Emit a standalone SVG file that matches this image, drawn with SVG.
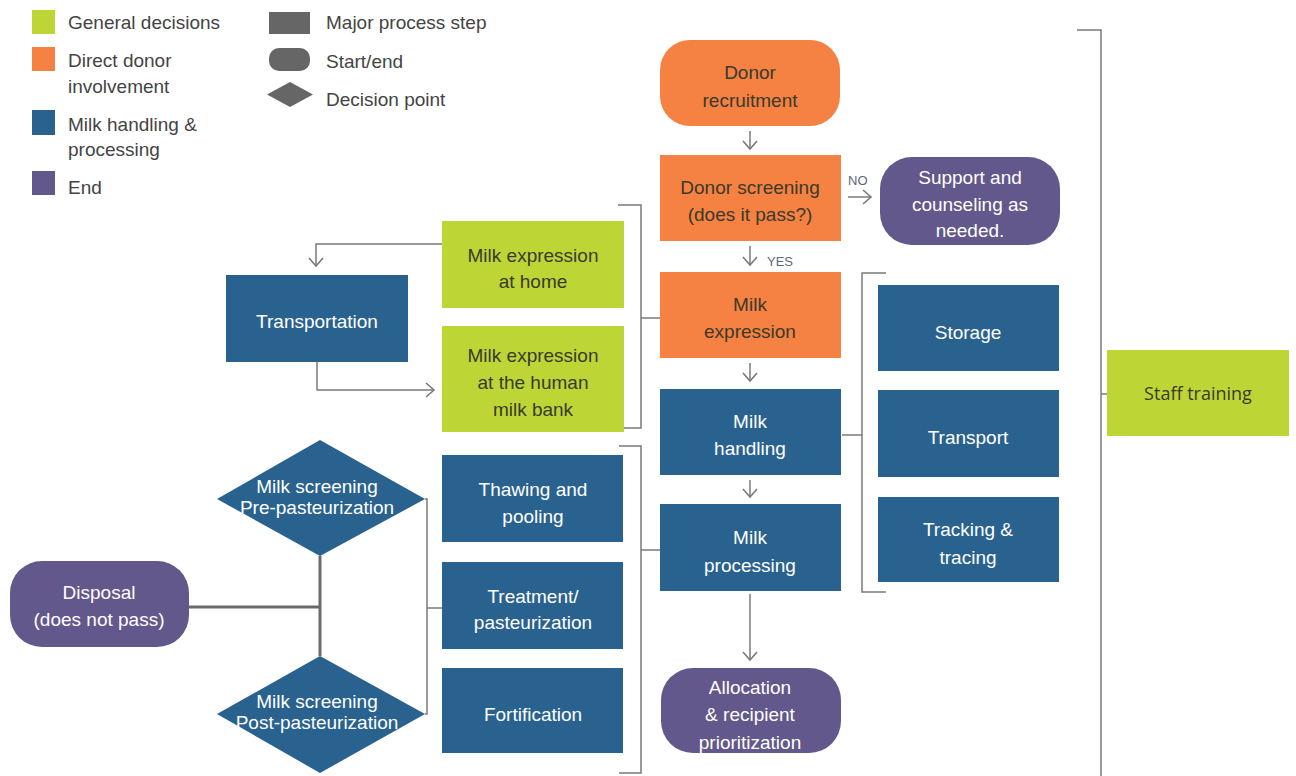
<svg xmlns="http://www.w3.org/2000/svg" width="1296" height="776" viewBox="0 0 1296 776">
<style>
text{font-family:"Liberation Sans",Arial,sans-serif;font-size:19px;text-anchor:middle}
.lg{text-anchor:start;fill:#444}
.w{fill:#fff}
.d{fill:#3a3a2a}
.green{fill:#BDD636}
.orange{fill:#F58142}
.blue{fill:#2A628F}
.purple{fill:#62588B}
.grey{fill:#666}
.ln{fill:none;stroke:#7a7a7a;stroke-width:1.5}
.thick{fill:none;stroke:#6a6a6a;stroke-width:3}
.lbl{font-size:13px;fill:#5a6a7a;text-anchor:start}
</style>
<defs>
<marker id="ah" markerUnits="userSpaceOnUse" markerWidth="20" markerHeight="20" viewBox="-10 -10 20 20" refX="0" refY="0" orient="auto">
<path d="M-8,-7 L0,0 L-8,7" fill="none" stroke="#7a7a7a" stroke-width="1.6"/>
</marker>
</defs>

<g id="legend">
<rect class="green" x="32" y="10" width="23" height="24"/>
<text class="lg" x="68" y="29">General decisions</text>
<rect class="orange" x="32" y="47" width="23" height="24"/>
<text class="lg" x="68" y="67">Direct donor</text>
<text class="lg" x="68" y="93">involvement</text>
<rect class="blue" x="32" y="110" width="23" height="25"/>
<text class="lg" x="68" y="131">Milk handling &amp;</text>
<text class="lg" x="68" y="156">processing</text>
<rect class="purple" x="32" y="171" width="23" height="24"/>
<text class="lg" x="68" y="194">End</text>
<rect class="grey" x="269" y="12" width="41" height="22"/>
<text class="lg" x="326" y="29">Major process step</text>
<rect class="grey" x="269" y="48" width="41" height="23" rx="10"/>
<text class="lg" x="326" y="68">Start/end</text>
<polygon class="grey" points="290,82 313,94.5 290,107 267,94.5"/>
<text class="lg" x="326" y="106">Decision point</text>
</g>

<g id="connectors">
<line class="ln" x1="750" y1="131" x2="750" y2="149" marker-end="url(#ah)"/>
<line class="ln" x1="848" y1="197" x2="871" y2="197" marker-end="url(#ah)"/>
<text class="lbl" x="848" y="185">NO</text>
<line class="ln" x1="750" y1="246" x2="750" y2="265" marker-end="url(#ah)"/>
<text class="lbl" x="767" y="266">YES</text>
<line class="ln" x1="750" y1="363" x2="750" y2="381" marker-end="url(#ah)"/>
<line class="ln" x1="750" y1="480" x2="750" y2="497" marker-end="url(#ah)"/>
<line class="ln" x1="750" y1="594" x2="750" y2="660" marker-end="url(#ah)"/>
<path class="ln" d="M442,244 H316 V266" marker-end="url(#ah)"/>
<path class="ln" d="M317,362 V390 H434" marker-end="url(#ah)"/>
<!-- bracket milk expression -->
<path class="ln" d="M618,205 H641 V428 H624"/>
<line class="ln" x1="641" y1="318" x2="660" y2="318"/>
<!-- bracket processing -->
<path class="ln" d="M619,446 H641 V773 H619"/>
<line class="ln" x1="641" y1="550" x2="660" y2="550"/>
<!-- bracket handling -->
<path class="ln" d="M886,273 H862 V592 H886"/>
<line class="ln" x1="842" y1="435" x2="862" y2="435"/>
<!-- bracket staff training -->
<path class="ln" d="M1077,30 H1101 V776"/>
<line class="ln" x1="1101" y1="394" x2="1108" y2="394"/>
<!-- screening connectors -->
<path class="ln" d="M425,499 H427 V714 H425"/>
<line class="ln" x1="427" y1="608" x2="442" y2="608"/>
<line class="thick" x1="320" y1="556" x2="320" y2="656"/>
<line class="thick" x1="189" y1="607" x2="320" y2="607"/>
</g>

<g id="donor-recruitment">
<rect class="orange" x="660" y="40" width="180" height="86" rx="30"/>
<text class="d" x="750" y="79">Donor</text>
<text class="d" x="750" y="107">recruitment</text>
</g>
<g id="donor-screening">
<rect class="orange" x="660" y="155" width="181" height="86"/>
<text class="d" x="750" y="194">Donor screening</text>
<text class="d" x="750" y="221">(does it pass?)</text>
</g>
<g id="support">
<rect class="purple" x="880" y="157" width="180" height="88" rx="32"/>
<text class="w" x="970" y="184">Support and</text>
<text class="w" x="970" y="211">counseling as</text>
<text class="w" x="970" y="237">needed.</text>
</g>
<g id="milk-expression">
<rect class="orange" x="660" y="272" width="181" height="86"/>
<text class="d" x="750" y="311">Milk</text>
<text class="d" x="750" y="338">expression</text>
</g>
<g id="milk-handling">
<rect class="blue" x="660" y="389" width="181" height="86"/>
<text class="w" x="750" y="428">Milk</text>
<text class="w" x="750" y="455">handling</text>
</g>
<g id="milk-processing">
<rect class="blue" x="660" y="504" width="181" height="87"/>
<text class="w" x="750" y="544">Milk</text>
<text class="w" x="750" y="572">processing</text>
</g>
<g id="allocation">
<rect class="purple" x="661" y="668" width="180" height="85" rx="32"/>
<text class="w" x="750" y="694">Allocation</text>
<text class="w" x="750" y="721">&amp; recipient</text>
<text class="w" x="750" y="749">prioritization</text>
</g>
<g id="storage">
<rect class="blue" x="878" y="285" width="181" height="86"/>
<text class="w" x="968" y="339">Storage</text>
</g>
<g id="transport">
<rect class="blue" x="878" y="390" width="181" height="87"/>
<text class="w" x="968" y="444">Transport</text>
</g>
<g id="tracking">
<rect class="blue" x="878" y="497" width="181" height="85"/>
<text class="w" x="968" y="536">Tracking &amp;</text>
<text class="w" x="968" y="564">tracing</text>
</g>
<g id="staff-training">
<rect class="green" x="1107" y="350" width="182" height="86"/>
<text x="1198" y="400" style="font-family:'Open Sans','Liberation Sans',sans-serif;font-size:18px;fill:#3a3a2a">Staff training</text>
</g>
<g id="expression-home">
<rect class="green" x="442" y="221" width="182" height="87"/>
<text class="d" x="533" y="262">Milk expression</text>
<text class="d" x="533" y="288">at home</text>
</g>
<g id="expression-bank">
<rect class="green" x="442" y="326" width="182" height="106"/>
<text class="d" x="533" y="362">Milk expression</text>
<text class="d" x="533" y="389">at the human</text>
<text class="d" x="533" y="416">milk bank</text>
</g>
<g id="transportation">
<rect class="blue" x="226" y="275" width="182" height="87"/>
<text class="w" x="317" y="328">Transportation</text>
</g>
<g id="thawing">
<rect class="blue" x="442" y="455" width="181" height="87"/>
<text class="w" x="533" y="496">Thawing and</text>
<text class="w" x="533" y="523">pooling</text>
</g>
<g id="treatment">
<rect class="blue" x="442" y="562" width="181" height="87"/>
<text class="w" x="533" y="603">Treatment/</text>
<text class="w" x="533" y="629">pasteurization</text>
</g>
<g id="fortification">
<rect class="blue" x="442" y="668" width="181" height="85"/>
<text class="w" x="533" y="721">Fortification</text>
</g>
<g id="screening-pre">
<polygon class="blue" points="320,440 425,499 320,556 217,499"/>
<text class="w" x="317" y="493">Milk screening</text>
<text class="w" x="317" y="514">Pre-pasteurization</text>
</g>
<g id="screening-post">
<polygon class="blue" points="320,656 425,714 320,773 217,714"/>
<text class="w" x="317" y="708">Milk screening</text>
<text class="w" x="317" y="729">Post-pasteurization</text>
</g>
<g id="disposal">
<rect class="purple" x="10" y="561" width="179" height="86" rx="32"/>
<text class="w" x="99" y="599">Disposal</text>
<text class="w" x="99" y="626">(does not pass)</text>
</g>
</svg>
